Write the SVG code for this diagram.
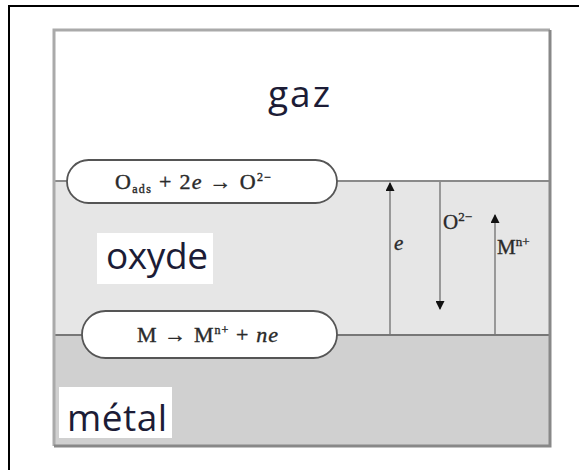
<svg xmlns="http://www.w3.org/2000/svg" width="579" height="470" viewBox="0 0 579 470">
<defs>
<style>
.lbl{font-family:"Open Sans","Liberation Sans",sans-serif;font-size:37px;fill:#1c1c36}
.eq{font-family:"Liberation Serif","DejaVu Serif",serif;font-size:22px;fill:#2a2a2a;stroke:#2a2a2a;stroke-width:0.4}
.fl{font-family:"Liberation Serif","DejaVu Serif",serif;font-size:21px;fill:#2a2a2a;stroke:#2a2a2a;stroke-width:0.35}
.pill{fill:#fff;stroke:#555;stroke-width:1.8}
.arr{stroke:#777;stroke-width:1.4;fill:none}
</style>
<marker id="ah" viewBox="0 0 10 10" refX="9" refY="5" markerWidth="12" markerHeight="9" orient="auto" markerUnits="userSpaceOnUse">
<path d="M0,0 L10,5 L0,10 z" fill="#111"/>
</marker>
</defs>
<rect x="0" y="0" width="579" height="470" fill="#fff"/>
<rect x="9" y="6" width="580" height="480" fill="none" stroke="#000" stroke-width="2"/>
<g id="regions">
<rect x="54" y="30" width="496" height="151" fill="#fff"/>
<rect x="54" y="181" width="496" height="154" fill="#e6e6e6"/>
<rect x="54" y="335" width="496" height="111" fill="#d0d0d0"/>
<line x1="54" y1="181" x2="550" y2="181" stroke="#8a8a8a" stroke-width="2"/>
<line x1="54" y1="335" x2="550" y2="335" stroke="#777" stroke-width="2"/>
<path d="M54,446 V30 H550" fill="none" stroke="#aaa" stroke-width="3"/>
<path d="M550,30 V446 H54" fill="none" stroke="#888" stroke-width="3"/>
</g>
<g id="gaz"><text class="lbl" x="268" y="107" textLength="62" lengthAdjust="spacing">gaz</text></g>
<g id="oxyde"><rect x="97" y="233" width="116" height="51" fill="#fff"/><text class="lbl" x="106" y="269" textLength="102" lengthAdjust="spacing">oxyde</text></g>
<g id="metal"><rect x="59" y="387" width="113" height="51" fill="#fff"/><text class="lbl" x="67" y="431" textLength="100" lengthAdjust="spacing">métal</text></g>
<g id="reaction-top">
<rect class="pill" x="67" y="160" width="270" height="43" rx="21.5"/>
<text class="eq" x="115" y="189" textLength="156" lengthAdjust="spacing">O<tspan font-size="12" dy="4">ads</tspan><tspan dy="-4"> + 2</tspan><tspan font-style="italic">e</tspan> → O<tspan font-size="12" dy="-8">2−</tspan></text>
</g>
<g id="reaction-bottom">
<rect class="pill" x="82" y="311" width="255" height="47" rx="23.5"/>
<text class="eq" x="137" y="342" textLength="141" lengthAdjust="spacing">M → M<tspan font-size="12" dy="-8">n+</tspan><tspan dy="8"> + </tspan><tspan font-style="italic">ne</tspan></text>
</g>
<g id="connectors">
<line class="arr" x1="390" y1="335" x2="390" y2="183" marker-end="url(#ah)"/>
<line class="arr" x1="440" y1="182" x2="440" y2="309" marker-end="url(#ah)"/>
<line class="arr" x1="495" y1="335" x2="495" y2="215" marker-end="url(#ah)"/>
</g>
<g id="flux-labels">
<text class="fl" x="394" y="250" font-style="italic">e</text>
<text class="fl" x="443" y="229">O<tspan font-size="13" dy="-8">2−</tspan></text>
<text class="fl" x="497" y="254">M<tspan font-size="13" dy="-8">n+</tspan></text>
</g>
</svg>
